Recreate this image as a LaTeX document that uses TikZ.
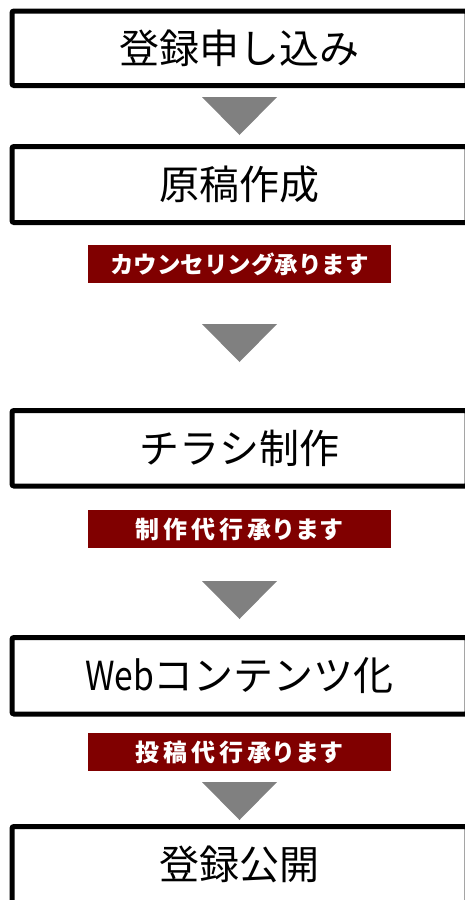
\documentclass[tikz,border=0pt]{standalone}
\usepackage{fontspec}
\usepackage{graphicx}
\setmainfont{Noto Sans CJK JP}
\definecolor{darkred}{HTML}{800000}
\definecolor{arrowgray}{HTML}{808080}
\begin{document}
\begin{tikzpicture}[x=1pt,y=-1pt,
  stepbox/.style={draw=black,line width=5pt,rounded corners=2pt,minimum width=455pt,inner sep=0pt,font=\fontsize{40}{48}\selectfont},
  tag/.style={fill=darkred,text=white,minimum width=303pt,minimum height=38pt,inner sep=0pt,font=\fontsize{24}{28}\selectfont\bfseries},
  downarrow/.style={fill=arrowgray}]
\useasboundingbox (0,0) rectangle (464,900);
\node[stepbox,minimum height=74.5pt] (b1) at (239.5,48.25) {登録申し込み};
\node[stepbox,minimum height=76pt] (b2) at (239.5,184.5) {原稿作成};
\node[stepbox,minimum height=75.5pt] (b3) at (239.5,448.25) {チラシ制作};
\node[stepbox,minimum height=76.5pt] (b4) at (239.5,675.75) {\scalebox{0.84}[1]{Web}コンテンツ化};
\node[stepbox,minimum height=76pt] (b5) at (239.5,864.5) {登録公開};
\node[tag,font=\fontsize{23.5}{28}\selectfont\bfseries] (l1) at (239.5,264) {カウンセリング承ります};
\node[tag] (l2) at (239.5,529) {制\,作\,代\,行\,承ります};
\node[tag] (l3) at (239.5,752) {投\,稿\,代\,行\,承ります};
\coordinate (t1) at (239.5,97);
\coordinate (t2) at (239.5,324);
\coordinate (t3) at (239.5,581);
\coordinate (t4) at (239.5,782);
\foreach \t in {t1,t2,t3,t4}{
  \fill[downarrow] (\t) ++(-37.5,0) -- ++(75,0) -- ++(-37.5,38) -- cycle;
}
\end{tikzpicture}
\end{document}
